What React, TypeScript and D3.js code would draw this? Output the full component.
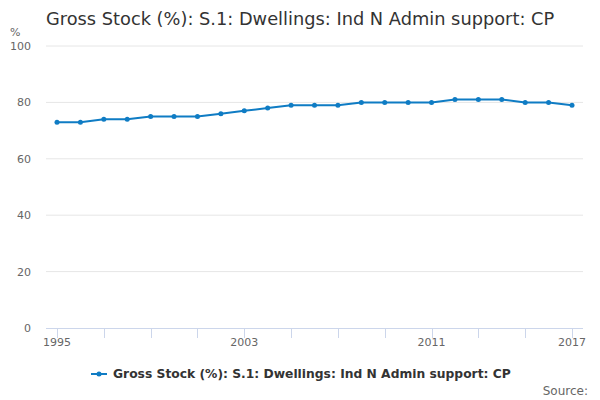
import React from "react";
import * as d3 from "d3";

const years = [1995,1996,1997,1998,1999,2000,2001,2002,2003,2004,2005,2006,2007,2008,2009,2010,2011,2012,2013,2014,2015,2016,2017];
const values = [73,73,74,74,75,75,75,76,77,78,79,79,79,80,80,80,80,81,81,81,80,80,79];
const yTicks = [0,20,40,60,80,100];
const xTickYears = [1995,1997,1999,2001,2003,2005,2007,2009,2011,2013,2015,2017];
const xLabelYears = [1995,2003,2011,2017];

const title = "Gross Stock (%): S.1: Dwellings: Ind N Admin support: CP";
const seriesName = "Gross Stock (%): S.1: Dwellings: Ind N Admin support: CP";

export default function App() {
  const W = 600, H = 400;
  const left = 46, right = 583;
  const x = d3.scaleLinear().domain([1995, 2017]).range([57, 572]);
  const y = d3.scaleLinear().domain([0, 100]).range([328, 46]);
  const line = d3.line<number>().x((_, i) => x(years[i])).y((d) => y(d));
  const color = "#0f7cc4";
  const font = "DejaVu Sans, sans-serif";
  return (
    <svg width={W} height={H} style={{ position: "absolute", left: 0, top: 0 }} fontFamily={font}>
      <rect width={W} height={H} fill="#fff" />
      <text x={46} y={25} fontSize={17.8} fill="#333">{title}</text>
      <text x={10} y={36} fontSize={11} fill="#666">%</text>
      {yTicks.map((t) => (
        <g key={t}>
          {t !== 0 && <line x1={left} x2={right} y1={y(t)} y2={y(t)} stroke="#e6e6e6" strokeWidth={1} />}
          <text x={31} y={y(t) + 4} fontSize={11} fill="#666" textAnchor="end">{t}</text>
        </g>
      ))}
      <line x1={left} x2={right} y1={y(0) + 0.5} y2={y(0) + 0.5} stroke="#ccd6eb" strokeWidth={1} />
      {xTickYears.map((yr) => (
        <line key={yr} x1={Math.round(x(yr)) + 0.5} x2={Math.round(x(yr)) + 0.5} y1={y(0)} y2={y(0) + 10} stroke="#ccd6eb" strokeWidth={1} />
      ))}
      {xLabelYears.map((yr) => (
        <text key={yr} x={x(yr)} y={346} fontSize={11} fill="#666" textAnchor="middle">{yr}</text>
      ))}
      <path d={line(values) || ""} fill="none" stroke={color} strokeWidth={2} strokeLinejoin="round" />
      {values.map((v, i) => (
        <circle key={i} cx={x(years[i])} cy={y(v)} r={2.5} fill={color} />
      ))}
      <line x1={91} x2={107} y1={374} y2={374} stroke={color} strokeWidth={2} />
      <circle cx={99} cy={374} r={2.5} fill={color} />
      <text x={113} y={377.5} fontSize={12.3} fontWeight="bold" fill="#333">{seriesName}</text>
      <text x={588} y={395} fontSize={12} fill="#666" textAnchor="end">Source:</text>
    </svg>
  );
}
